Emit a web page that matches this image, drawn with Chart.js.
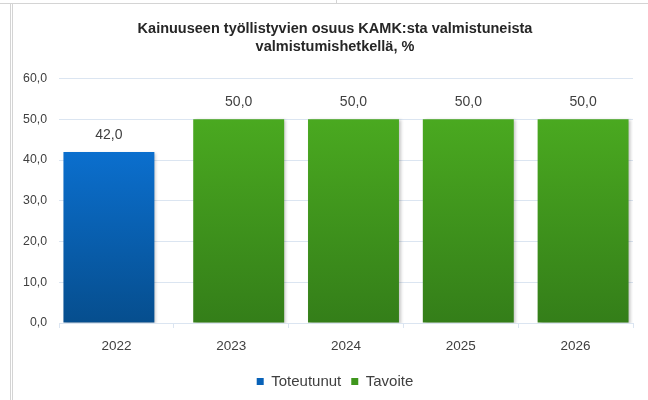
<!DOCTYPE html>
<html>
<head>
<meta charset="utf-8">
<script src="https://cdn.jsdelivr.net/npm/chart.js@4/dist/chart.umd.min.js"></script>
<style>
  html, body { margin: 0; padding: 0; background: #fff; }
  #wrap { position: relative; width: 648px; height: 400px; overflow: hidden; }
  .ln { position: absolute; background: #d4d4d4; }
  canvas { position: absolute; left: 0; top: 0; }
</style>
</head>
<body>
<div id="wrap">
  <div class="ln" style="left:0;top:3px;width:648px;height:1px"></div>
  <div class="ln" style="left:336px;top:0;width:1px;height:3px"></div>
  <div class="ln" style="left:10px;top:3px;width:1px;height:397px"></div>
  <div class="ln" style="left:12px;top:3px;width:1px;height:397px"></div>
  <canvas id="kuva" width="670" height="400"></canvas>
</div>
<script>
// Data
var vuodet = ['2022', '2023', '2024', '2025', '2026'];
var toteutunut = [42.0, null, null, null, null];
var tavoite = [null, 50.0, 50.0, 50.0, 50.0];
var yMax = 60;
var yAskel = 10;

var otsikko = ['Kainuuseen työllistyvien osuus KAMK:sta valmistuneista', 'valmistumishetkellä, %'];

var fontti = "'Liberation Sans', Arial, sans-serif";
var tekstiVari = '#404040';
var viivaVari = '#dbe5f1';

function muotoile(v) {
    return v.toFixed(1).replace('.', ',');
}

// liukuväri pylvään yläreunasta nollaan
function liukuvari(ylä, ala) {
    return function (ctx) {
        var chart = ctx.chart;
        if (!chart.chartArea || ctx.parsed == null || ctx.raw == null) return ylä;
        var y = chart.scales.y;
        var g = chart.ctx.createLinearGradient(0, y.getPixelForValue(ctx.raw), 0, y.getPixelForValue(0));
        g.addColorStop(0, ylä);
        g.addColorStop(1, ala);
        return g;
    };
}

// arvot pylväiden päälle + varjo
var arvoPlugin = {
    id: 'arvot',
    beforeDatasetsDraw: function (chart) {
        var c = chart.ctx;
        c.save();
        c.shadowColor = 'rgba(0,0,0,0.22)';
        c.shadowBlur = 3;
        c.shadowOffsetX = 2;
        c.shadowOffsetY = 1;
    },
    afterDatasetsDraw: function (chart) {
        var c = chart.ctx;
        c.restore();
        c.save();
        c.font = '14px ' + fontti;
        c.fillStyle = tekstiVari;
        c.textAlign = 'center';
        c.textBaseline = 'middle';
        chart.data.datasets.forEach(function (ds, i) {
            var meta = chart.getDatasetMeta(i);
            meta.data.forEach(function (el, j) {
                var v = ds.data[j];
                if (v == null) return;
                c.fillText(muotoile(v), el.x, el.y - 17);
            });
        });
        c.restore();
    }
};

new Chart(document.getElementById('kuva'), {
    type: 'bar',
    data: {
        labels: vuodet,
        datasets: [{
            label: 'Toteutunut',
            data: toteutunut,
            backgroundColor: liukuvari('#0b6fce', '#064e8e'),
            borderWidth: 0
        }, {
            label: 'Tavoite',
            data: tavoite,
            backgroundColor: liukuvari('#4aa920', '#347e19'),
            borderWidth: 0
        }]
    },
    options: {
        responsive: false,
        animation: false,
        categoryPercentage: 0.261,
        barPercentage: 6.07,
        layout: { padding: { left: 12, right: 12, top: 0, bottom: 1 } },
        plugins: {
            title: {
                display: true,
                text: otsikko,
                color: '#262626',
                font: { family: fontti, size: 14.5, weight: 'bold', lineHeight: 1.26 },
                padding: { top: 20, bottom: 22 }
            },
            legend: {
                position: 'bottom',
                labels: {
                    boxWidth: 7,
                    boxHeight: 7,
                    padding: 10,
                    color: tekstiVari,
                    font: { family: fontti, size: 15 },
                    generateLabels: function (chart) {
                        var varit = ['#0862b8', '#3f961d'];
                        return chart.data.datasets.map(function (ds, i) {
                            return { text: ds.label, fillStyle: varit[i], strokeStyle: varit[i], lineWidth: 0, datasetIndex: i, fontColor: tekstiVari };
                        });
                    }
                }
            },
            tooltip: { enabled: false }
        },
        scales: {
            x: {
                grid: { drawOnChartArea: false, drawTicks: true, tickLength: 5, color: viivaVari, offset: true },
                border: { display: true, color: viivaVari },
                ticks: { color: tekstiVari, font: { family: fontti, size: 13.5 }, padding: 10 },
                afterFit: function (s) { s.height = 41; }
            },
            y: {
                min: 0,
                max: yMax,
                ticks: {
                    stepSize: yAskel,
                    color: tekstiVari,
                    font: { family: fontti, size: 12.3 },
                    padding: 12,
                    callback: function (v) { return muotoile(v); }
                },
                grid: { color: viivaVari, drawTicks: false },
                border: { display: false },
                afterFit: function (s) { s.width = 47; }
            },
            // tyhjä tila oikealla, jotta otsikko ja selite osuvat keskelle kuten alkuperäisessä
            tyhja: {
                type: 'linear',
                position: 'right',
                grid: { display: false },
                border: { display: false },
                ticks: { display: false },
                afterFit: function (s) { s.width = 25; }
            }
        }
    },
    plugins: [arvoPlugin]
});
</script>
</body>
</html>
